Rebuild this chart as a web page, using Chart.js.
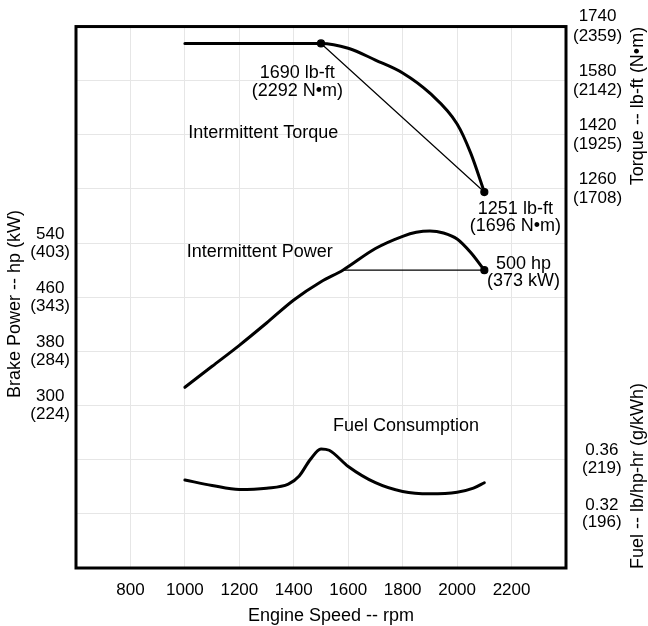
<!DOCTYPE html>
<html><head><meta charset="utf-8">
<script src="https://cdn.jsdelivr.net/npm/chart.js@4.4.0/dist/chart.umd.min.js"></script>
<style>html,body{margin:0;padding:0;background:#fff;}</style>
</head><body>
<canvas id="c" width="648" height="626"></canvas>
<script>
// ---- data ----
const torqueRpm    = [1000, 1500, 1600, 1700, 1800, 1900, 2000, 2050, 2100];
const torqueLbFt   = [1690, 1690, 1676, 1641, 1603, 1543, 1452, 1366, 1251];
const torqueRefRpm = [1500, 2100];
const torqueRefLbFt= [1690, 1251];

const powerRpm     = [1000, 1100, 1200, 1300, 1400, 1500, 1580, 1700, 1800, 1850, 1900, 1950, 2000, 2050, 2100];
const powerHp      = [327, 358, 389, 422, 456, 483, 500, 532, 550, 556, 558, 555, 546, 526, 500];
const powerRefRpm  = [1580, 2100];
const powerRefHp   = [500, 500];

const fuelRpm      = [1000, 1100, 1200, 1300, 1380, 1420, 1460, 1500, 1530, 1600, 1700, 1800, 1900, 2000, 2060, 2100];
const fuelLbHpHr   = [0.345, 0.341, 0.338, 0.339, 0.342, 0.348, 0.360, 0.368, 0.367, 0.355, 0.343, 0.3365, 0.3348, 0.336, 0.339, 0.343];

const xTickLabels  = [800, 1000, 1200, 1400, 1600, 1800, 2000, 2200];
const powerTicks   = [300, 380, 460, 540];
const powerTicksKw = [224, 284, 343, 403];
const torqueTicks  = [1260, 1420, 1580, 1740];
const torqueTicksNm= [1708, 1925, 2142, 2359];
const fuelTicks    = [0.32, 0.36];
const fuelTicksGkWh= [196, 219];

// ---- helpers ----
const FONT = '"Liberation Sans", Arial, sans-serif';
const INK = '#000';
const GRID = '#e6e6e6';
const RIGHT_W = 82;
const pts = (xs, ys) => xs.map((x, i) => ({x: x, y: ys[i]}));
function pairLabel(ticks, alt, v) {
  for (let i = 0; i < ticks.length; i++) {
    if (Math.abs(ticks[i] - v) < 1e-6) return [String(ticks[i]), '(' + alt[i] + ')'];
  }
  return '';
}

const decor = {
  id: 'decor',
  afterLayout(chart) {
    // the fuel axis shares the right-hand column with the torque axis
    const f = chart.scales.fuel;
    f.right = f.left + RIGHT_W;
    f.width = RIGHT_W;
  },
  afterDatasetsDraw(chart) {
    const ctx = chart.ctx, a = chart.chartArea;
    ctx.save();
    ctx.strokeStyle = INK;
    ctx.lineWidth = 3;
    ctx.strokeRect(a.left, a.top, a.right - a.left, a.bottom - a.top);
    ctx.restore();
  },
  afterDraw(chart) {
    const ctx = chart.ctx, s = chart.scales;
    const X = v => s.x.getPixelForValue(v);
    ctx.save();
    ctx.fillStyle = INK;
    ctx.font = '18px ' + FONT;
    ctx.textBaseline = 'middle';
    const text = (str, x, y, align) => { ctx.textAlign = align || 'center'; ctx.fillText(str, x, y); };
    // annotations anchored on scale values
    let x = X(1413), y = s.torque.getPixelForValue(1602);
    text('1690 lb-ft', x, y); text('(2292 N\u2022m)', x, y + 18);
    text('Intermittent Torque', X(1012), s.torque.getPixelForValue(1426), 'left');
    x = X(2214); y = s.torque.getPixelForValue(1200);
    text('1251 lb-ft', x, y); text('(1696 N\u2022m)', x, y + 17);
    text('Intermittent Power', X(1007), s.y.getPixelForValue(527), 'left');
    x = X(2244); y = s.y.getPixelForValue(509);
    text('500 hp', x, y); text('(373 kW)', x, y + 17);
    text('Fuel Consumption', X(1544), s.fuel.getPixelForValue(0.385), 'left');
    // axis titles
    text('Engine Speed -- rpm', 331, 616);
    const vtext = (str, cx, cy) => {
      ctx.save(); ctx.translate(cx, cy); ctx.rotate(-Math.PI / 2);
      ctx.textAlign = 'center'; ctx.fillText(str, 0, 0); ctx.restore();
    };
    vtext('Brake Power -- hp (kW)', 15, 304);
    vtext('Torque -- lb-ft (N\u2022m)', 638, 106);
    vtext('Fuel -- lb/hp-hr (g/kWh)', 638, 476);
    ctx.restore();
  }
};

const thick = {borderColor: INK, backgroundColor: INK, borderWidth: 3, pointRadius: 0, fill: false, cubicInterpolationMode: 'monotone'};
const thin = {borderColor: INK, backgroundColor: INK, borderWidth: 1.2, fill: false, tension: 0};

new Chart(document.getElementById('c'), {
  type: 'line',
  data: {
    datasets: [
      Object.assign({label: 'Intermittent Torque', data: pts(torqueRpm, torqueLbFt), yAxisID: 'torque'}, thick),
      Object.assign({label: 'Torque line', data: pts(torqueRefRpm, torqueRefLbFt), yAxisID: 'torque', pointRadius: 3.5}, thin),
      Object.assign({label: 'Intermittent Power', data: pts(powerRpm, powerHp), yAxisID: 'y'}, thick),
      Object.assign({label: 'Power line', data: pts(powerRefRpm, powerRefHp), yAxisID: 'y', pointRadius: [0, 3.5]}, thin),
      Object.assign({label: 'Fuel Consumption', data: pts(fuelRpm, fuelLbHpHr), yAxisID: 'fuel'}, thick)
    ]
  },
  options: {
    responsive: false,
    animation: false,
    layout: {padding: {top: 22, left: 0, right: 0, bottom: 0}},
    plugins: {legend: {display: false}, tooltip: {enabled: false}},
    elements: {line: {borderCapStyle: 'round', borderJoinStyle: 'round'}},
    scales: {
      x: {
        type: 'linear', min: 600, max: 2400,
        grid: {color: GRID, lineWidth: 1, drawTicks: false},
        border: {display: false},
        ticks: {stepSize: 200, autoSkip: false, maxRotation: 0, padding: 12, color: INK,
          font: {family: FONT, size: 17},
          callback: v => xTickLabels.includes(v) ? String(v) : ''},
        afterFit: sc => { sc.height = 58; }
      },
      y: {
        position: 'left', min: 60, max: 860,
        grid: {color: GRID, lineWidth: 1, drawTicks: false},
        border: {display: false},
        ticks: {stepSize: 80, crossAlign: 'center', padding: 6, color: INK,
          font: {family: FONT, size: 17, lineHeight: 1.05},
          callback: v => pairLabel(powerTicks, powerTicksKw, v)},
        afterFit: sc => { sc.width = 76; }
      },
      fuel: {
        position: 'right', weight: 0, min: 0.28, max: 0.68,
        grid: {display: false, drawTicks: false},
        border: {display: false},
        ticks: {stepSize: 0.04, autoSkip: false, crossAlign: 'center', padding: 16, color: INK,
          font: {family: FONT, size: 17, lineHeight: 1.05},
          callback: v => pairLabel(fuelTicks, fuelTicksGkWh, v)},
        afterFit: sc => { sc.width = 0; }
      },
      torque: {
        position: 'right', weight: 1, min: 140, max: 1740,
        grid: {display: false, drawTicks: false},
        border: {display: false},
        ticks: {stepSize: 160, crossAlign: 'center', padding: 7, color: INK,
          font: {family: FONT, size: 17, lineHeight: 1.15},
          callback: v => pairLabel(torqueTicks, torqueTicksNm, v)},
        afterFit: sc => { sc.width = RIGHT_W; }
      }
    }
  },
  plugins: [decor]
});
</script>
</body></html>
